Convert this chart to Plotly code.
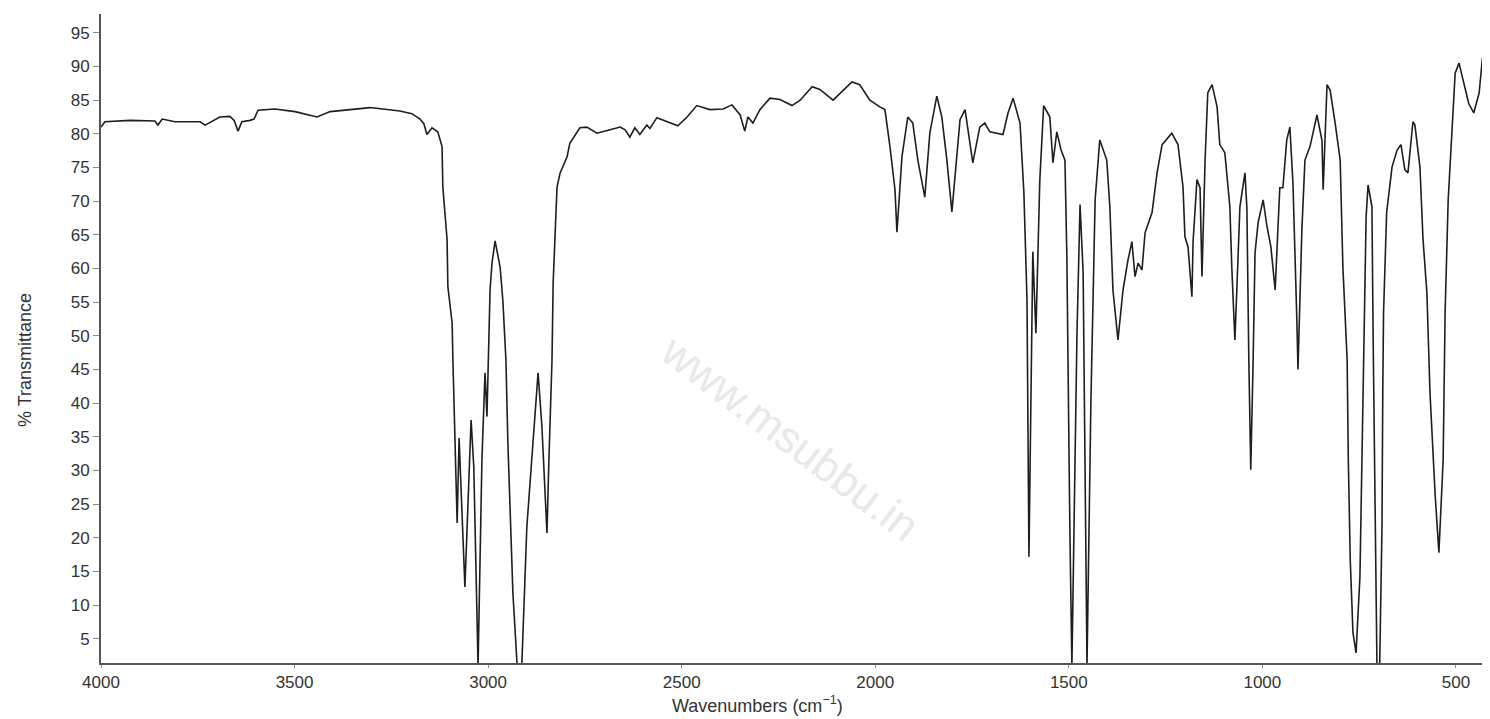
import plotly.graph_objects as go

# IR spectrum
wavenumber = [
    4000, 3990, 3925, 3861, 3853, 3842, 3809, 3744, 3731, 3693, 3667, 3656, 3646, 3636,
    3615, 3605, 3594, 3551, 3499, 3442, 3408, 3357, 3305, 3228, 3197, 3176, 3166, 3158,
    3145, 3130, 3119, 3117, 3106, 3104, 3093, 3091, 3086, 3080, 3075, 3060, 3044, 3037,
    3026, 3016, 3008, 3003, 2995, 2990, 2982, 2969, 2962, 2954, 2949, 2936, 2925, 2913,
    2900, 2887, 2871, 2861, 2848, 2843, 2835, 2832, 2827, 2822, 2814, 2796, 2789, 2763,
    2745, 2719, 2685, 2659, 2646, 2634, 2621, 2608, 2590, 2582, 2564, 2538, 2510, 2486,
    2461, 2427, 2393, 2370, 2349, 2337, 2329, 2316, 2298, 2272, 2246, 2215, 2194, 2163,
    2143, 2109, 2060, 2040, 2014, 1988, 1975, 1962, 1949, 1944, 1931, 1916, 1903, 1890,
    1872, 1859, 1841, 1828, 1815, 1802, 1789, 1781, 1768, 1761, 1748, 1730, 1717, 1704,
    1686, 1670, 1657, 1644, 1626, 1616, 1608, 1603, 1593, 1585, 1575, 1565, 1549, 1541,
    1531, 1520, 1510, 1505, 1497, 1492, 1479, 1471, 1463, 1453, 1443, 1432, 1420, 1402,
    1394, 1386, 1373, 1360, 1347, 1337, 1329, 1321, 1311, 1303, 1285, 1272, 1259, 1244,
    1234, 1218, 1205, 1200, 1192, 1182, 1179, 1169, 1161, 1156, 1148, 1141, 1130, 1117,
    1110, 1097, 1084, 1079, 1071, 1066, 1058, 1045, 1040, 1035, 1030, 1024, 1019, 1011,
    998, 988, 978, 967, 962, 955, 947, 937, 929, 921, 911, 908, 898, 890,
    877, 859, 846, 843, 833, 825, 812, 799, 792, 781, 778, 773, 766, 758,
    748, 740, 732, 727, 717, 714, 709, 704, 697, 691, 689, 687, 679, 665,
    652, 642, 632, 624, 611, 606, 593, 585, 575, 567, 554, 544, 533, 528,
    520, 510, 502, 492, 480, 467, 454, 440, 432, 421, 412,
]
transmittance = [
    81.0, 81.8, 82.0, 81.9, 81.3, 82.2, 81.8, 81.8, 81.3, 82.5, 82.6, 82.0, 80.4, 81.8,
    82.0, 82.2, 83.5, 83.7, 83.3, 82.5, 83.3, 83.6, 83.9, 83.4, 83.0, 82.2, 81.5, 79.9,
    80.9, 80.3, 78.1, 72.1, 64.3, 57.3, 51.9, 46.4, 36.5, 22.2, 34.8, 12.7, 37.5, 30.5,
    1.0, 31.6, 44.5, 38.0, 56.8, 60.8, 64.1, 60.2, 55.3, 46.4, 34.1, 11.8, 1.0, 1.0,
    21.6, 32.6, 44.5, 36.5, 20.7, 31.6, 46.4, 57.9, 66.2, 72.1, 74.2, 76.6, 78.6, 80.9,
    81.0, 80.1, 80.6, 81.0, 80.6, 79.5, 80.9, 79.9, 81.3, 80.8, 82.4, 81.8, 81.2, 82.5,
    84.2, 83.6, 83.7, 84.3, 82.8, 80.4, 82.5, 81.6, 83.6, 85.3, 85.1, 84.2, 85.0, 87.0,
    86.6, 85.0, 87.7, 87.3, 85.0, 84.0, 83.6, 78.1, 71.7, 65.4, 76.6, 82.5, 81.6, 76.1,
    70.6, 80.1, 85.6, 82.5, 76.1, 68.4, 77.6, 82.1, 83.6, 80.6, 75.7, 81.0, 81.6, 80.3,
    80.1, 79.9, 83.1, 85.3, 81.6, 71.2, 55.3, 17.2, 62.5, 50.4, 73.0, 84.2, 82.5, 75.7,
    80.3, 77.6, 76.1, 61.7, 20.0, 1.0, 50.0, 69.5, 59.4, 1.0, 40.0, 70.2, 79.1, 76.1,
    69.2, 56.8, 49.4, 56.8, 61.3, 64.0, 58.8, 60.8, 59.8, 65.3, 68.3, 74.2, 78.4, 79.5,
    80.1, 78.4, 72.1, 64.7, 63.2, 55.8, 64.0, 73.2, 72.0, 58.8, 76.1, 86.1, 87.3, 84.0,
    78.4, 77.2, 69.2, 60.2, 49.4, 56.8, 69.2, 74.2, 69.0, 46.4, 30.1, 46.0, 62.3, 66.8,
    70.2, 66.2, 63.2, 56.8, 64.0, 72.0, 72.0, 79.1, 81.0, 72.7, 52.4, 45.0, 65.7, 76.1,
    78.1, 82.8, 79.0, 71.7, 87.3, 86.5, 81.6, 76.1, 60.2, 46.4, 31.6, 16.7, 5.9, 2.9,
    14.2, 39.0, 67.7, 72.4, 69.2, 50.4, 25.0, 1.0, 1.0, 21.6, 41.5, 53.4, 68.3, 75.1,
    77.6, 78.4, 74.7, 74.2, 81.8, 81.3, 75.1, 64.3, 56.4, 41.5, 26.7, 17.8, 31.6, 53.4,
    70.2, 81.0, 89.0, 90.5, 87.5, 84.5, 83.1, 86.1, 91.0, 95.0, 96.6,
]

x_tick_vals = [4000, 3500, 3000, 2500, 2000, 1500, 1000, 500]
x_tick_text = ["4000", "3500", "3000", "2500", "2000", "1500", "1000", "500"]
y_tick_vals = [5, 10, 15, 20, 25, 30, 35, 40, 45, 50, 55, 60, 65, 70, 75, 80, 85, 90, 95]

FONT = "Liberation Sans, Arial, sans-serif"

# page body has an 8px margin, so the figure is drawn 8px right / 8px down
W, H = 1482, 711
ML, MT, MB = 93, 6, 56
PW = W - ML
PH = H - MT - MB


def px_x(page_x):
    return (page_x - 8 - ML) / PW


def px_y(page_y):
    return (H - MB - (page_y - 8)) / PH


fig = go.Figure()
fig.add_trace(go.Scatter(
    x=wavenumber, y=transmittance, mode="lines",
    line=dict(color="#1e1e1e", width=1.6),
    showlegend=False, hoverinfo="x+y",
))

fig.update_layout(
    width=W, height=H,
    margin=dict(l=ML, r=0, t=MT, b=MB),
    paper_bgcolor="white", plot_bgcolor="white",
    font=dict(family=FONT, size=17, color="#333333"),
    xaxis=dict(
        range=[4000, 412], tickmode="array", tickvals=x_tick_vals, ticktext=x_tick_text,
        showgrid=False, zeroline=False, showline=True, linecolor="#555555", linewidth=2,
        ticks="outside", ticklen=3, tickcolor="#888888",
        tickfont=dict(family=FONT, size=17, color="#333333"),
    ),
    yaxis=dict(
        range=[1.4, 97.8], tickmode="array", tickvals=y_tick_vals,
        showgrid=False, zeroline=False, showline=True, linecolor="#555555", linewidth=2,
        ticks="outside", ticklen=6, tickcolor="#888888",
        tickfont=dict(family=FONT, size=17, color="#333333"),
    ),
    annotations=[
        dict(text="Wavenumbers (cm<sup>\u22121</sup>)", xref="paper", yref="paper",
             x=px_x(757), y=px_y(704), xanchor="center", yanchor="middle",
             showarrow=False, font=dict(family=FONT, size=18, color="#333333")),
        dict(text="% Transmittance", xref="paper", yref="paper",
             x=px_x(25), y=px_y(360), xanchor="center", yanchor="middle",
             textangle=-90, showarrow=False, font=dict(family=FONT, size=18, color="#333333")),
        dict(text="www.msubbu.in", xref="paper", yref="paper",
             x=px_x(790), y=px_y(437), xanchor="center", yanchor="middle",
             textangle=37, showarrow=False, font=dict(family=FONT, size=44, color="#e8e8e8")),
    ],
)

fig.write_html("out.html")
